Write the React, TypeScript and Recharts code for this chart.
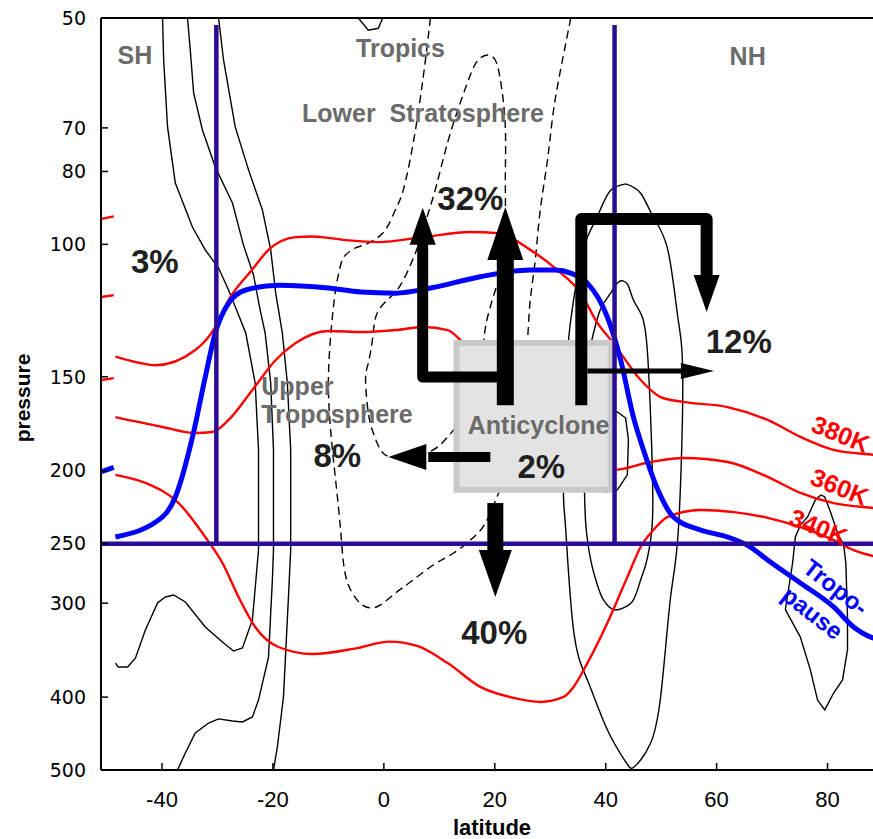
import {
  ComposedChart,
  Line,
  ReferenceArea,
  Scatter,
  XAxis,
  YAxis,
} from "recharts";

// latitude (deg) / pressure (hPa) pairs
const latTicks = [-40, -20, 0, 20, 40, 60, 80];
const pressureTicks = [50, 70, 80, 100, 150, 200, 250, 300, 400, 500];

const tropopause = [
  [-48.4, 245], [-39.9, 230.4], [-37.6, 216.7], [-34.5, 180.3], [-32.2, 150.1],
  [-30.4, 131.2], [-28.0, 119.7], [-24.9, 115], [-19.0, 113.3], [-10.0, 114.3],
  [-4.2, 115.7], [2.1, 116.1], [8.4, 114.3], [17.4, 110.4], [26.4, 108.2],
  [30.9, 108.2], [33.7, 109.2], [36.7, 112.6], [40.3, 124.9], [42.7, 142.5],
  [45.0, 169.7], [46.8, 187.6], [49.4, 212], [52.2, 230.4], [57.1, 239.8],
  [62.0, 245], [66.1, 252.6], [69.2, 262.9], [75.1, 282], [81.1, 303.5],
  [84.7, 322.7], [87.8, 332.8], [90.3, 335.8],
];

const theta380 = [
  [-48.4, 141], [-43.9, 143.8], [-41.2, 144.8], [-34.0, 138.2], [-30.4, 128.8],
  [-28.0, 118.6], [-23.8, 108.2], [-20.8, 101.7], [-15.9, 97.8], [-12.9, 97.6],
  [-6.9, 98.7], [-1.0, 99.3], [7.1, 97.8], [15.6, 96.3], [20.5, 96.6],
  [26.4, 101.7], [31.3, 108.2], [35.5, 116.1], [38.5, 127.2], [41.4, 135.3],
  [46.3, 151.5], [49.9, 159.6], [54.0, 162], [62.0, 164.6], [69.2, 171.2],
  [75.1, 180.3], [81.1, 187.6], [88.3, 190.5], [90.3, 191.2],
];

const theta360 = [
  [-48.4, 169.7], [-39.9, 174.9], [-34.0, 178.2], [-30.9, 177.6], [-28.0, 171.2],
  [-23.7, 156.2], [-19.5, 142.5], [-15.9, 135.3], [-10.0, 130.4], [-3.9, 130.8],
  [2.1, 130], [7.1, 128.8], [11.5, 130], [14.4, 135.3], [21.1, 151.5],
  [31.9, 182], [41.4, 199.5], [48.1, 194.7], [54.0, 192.3], [62.0, 194.7],
  [69.2, 203.8], [75.1, 214], [81.1, 220.8], [88.3, 224.2], [90.3, 225],
];

const theta340 = [
  [-48.4, 202.5], [-43.0, 207.6], [-37.0, 220.8], [-32.2, 245], [-29.1, 265.3],
  [-26.2, 294.4], [-23.2, 322.7], [-19.0, 343.1], [-12.9, 350.6], [-5.0, 344.5],
  [1.0, 337.5], [6.0, 342], [11.5, 360.4], [17.4, 387.7], [23.4, 401],
  [28.2, 406], [32.4, 399.8], [34.2, 387.7], [36.7, 360.4], [40.3, 318.8],
  [43.9, 277], [46.3, 252.6], [48.6, 239.8], [51.2, 230.4], [57.1, 225.5],
  [63.1, 227], [69.2, 231], [75.1, 237.6], [81.1, 247.3], [84.7, 255],
  [88.3, 259.7], [90.3, 261],
];

// stubs along the left frame
const stubRed1 = [[-50.9, 92.5], [-48.7, 91.8]];
const stubRed2 = [[-50.9, 117.5], [-48.7, 116.8]];
const stubRed3 = [[-50.9, 151.5], [-48.7, 150.6]];
const stubBlue = [[-50.9, 200.6], [-48.7, 198]];

// solid contours
const cont1 = [
  [-39.9, 50], [-39.7, 56.9], [-39.0, 69.8], [-37.6, 82.9], [-34.5, 94.9],
  [-32.2, 101.7], [-29.8, 107.5], [-28.0, 115], [-24.9, 131.2], [-23.2, 152.9],
  [-22.6, 187.6], [-22.6, 255], [-23.7, 315.8], [-25.5, 344], [-27.1, 347.4],
  [-28.9, 339], [-32.2, 322.7], [-35.8, 298.9], [-37.9, 292.6], [-39.4, 294.4],
  [-40.8, 299.8], [-43.0, 325.6], [-44.8, 355], [-46.2, 364.8], [-47.9, 364.8],
  [-48.4, 360.4],
];
const cont2 = [
  [-35.4, 50], [-34.9, 55.2], [-34.3, 62.9], [-32.7, 70.5], [-30.4, 78.9],
  [-27.3, 88.1], [-25.3, 100.3], [-23.5, 109.8], [-22.3, 122.3], [-21.4, 131.2],
  [-20.4, 152.9], [-19.9, 187.6], [-19.9, 255], [-20.1, 279.4], [-20.8, 353.8],
  [-22.6, 403.6], [-23.7, 425], [-25.5, 431.6], [-27.3, 430.3], [-29.8, 427.6],
  [-31.6, 433], [-34.0, 446.4], [-35.8, 474.6], [-37.2, 500],
];
const cont3 = [
  [-29.8, 50], [-28.9, 56.9], [-26.8, 69.8], [-24.4, 79.6], [-21.9, 90],
  [-20.4, 101.7], [-19.5, 116.1], [-18.3, 131.2], [-17.4, 152.9], [-16.8, 187.6],
  [-16.8, 255], [-17.2, 294.4], [-18.1, 399.8], [-19.2, 466], [-19.9, 500],
];
const cont4 = [
  [43.6, 83.1], [46.3, 85.5], [48.6, 92], [51.2, 101.7], [53.0, 124.9],
  [53.9, 152.9], [53.1, 239.8], [51.7, 294.4], [49.9, 399.8], [48.1, 460.3],
  [46.3, 485], [44.8, 497], [43.6, 487.5], [40.3, 442], [36.7, 379.5],
  [34.2, 325.6], [32.8, 239.8], [32.4, 216.7], [32.4, 171.2], [33.1, 138.2],
  [34.2, 118.6], [35.5, 104.9], [36.7, 97.8], [39.0, 90], [40.9, 84.7],
  [43.6, 83.1],
];
const cont5 = [
  [37.3, 136.1], [39.0, 122.3], [40.9, 116.1], [42.3, 112.2], [43.9, 112.9],
  [45.0, 118.6], [46.6, 124.9], [47.5, 138.2], [48.1, 169.7], [48.5, 218.7],
  [48.1, 247.3], [47.2, 266.9], [46.3, 279.4], [45.0, 297], [43.2, 304.4],
  [41.4, 306], [39.6, 297], [38.5, 283.7], [37.3, 262.9], [36.5, 239.8],
  [36.2, 216.7], [36.2, 171.2], [37.3, 136.1],
];
const cont6 = [
  [39.0, 167.1], [42.1, 167.1], [43.6, 170.2], [44.1, 182], [43.9, 202.5],
  [42.1, 212], [39.9, 213.4], [38.1, 199.5], [38.1, 176.5], [39.0, 167.1],
];
const cont7 = [
  [78.8, 215.4], [79.5, 216.7], [80.6, 227.6], [81.8, 242], [82.9, 251.1],
  [83.3, 265.3], [83.6, 313], [83.6, 346], [82.7, 379.5], [81.1, 395],
  [79.5, 416], [78.2, 403.6], [76.9, 368], [75.1, 332.8], [72.4, 306],
  [73.7, 265.3], [74.2, 245], [75.1, 236.2], [76.4, 230.4], [77.8, 218.7],
  [78.8, 215.4],
];
const cont8 = [[-4.6, 50], [-2.8, 51.9], [-1.0, 51.6], [-0.2, 50]];

// dashed contours
const dash1 = [
  [8.4, 50], [7.1, 59.9], [5.3, 73.3], [3.5, 84.7], [2.3, 89.2], [0.8, 94.3],
  [-1.0, 97.8], [-3.3, 100], [-5.1, 101.1], [-6.9, 103.3], [-7.8, 106.6],
  [-8.7, 115], [-9.5, 130], [-10.0, 151.5], [-9.6, 176.5], [-8.7, 205.7],
  [-7.8, 239.8], [-7.1, 271], [-5.7, 290.8], [-3.9, 301.6], [-2.4, 304.4],
  [-0.6, 301.6], [2.1, 290.8], [4.8, 281.2], [8.9, 266.9], [12.6, 257.3],
  [15.6, 247.3], [18.3, 234.8], [20.7, 214], [22.8, 199.5],
];
const dash2 = [
  [12.9, 175.5], [11.5, 180.3], [8.9, 187.6], [4.8, 191.7], [1.2, 191.7],
  [-0.6, 187.6], [-1.9, 178.2], [-2.8, 167.6], [-3.3, 151.5], [-2.8, 143.8],
  [-2.0, 132.8], [-1.2, 123.4], [1.2, 117.5], [3.5, 111.6], [6.1, 100.8],
  [7.5, 93.4], [8.9, 86.5], [10.2, 79.6], [12.0, 71.1], [14.4, 62.9],
  [16.2, 58.1], [17.4, 56.5], [18.7, 56.0], [20.1, 56.9], [21.1, 61.0],
  [21.9, 69.8], [21.9, 81.4], [21.9, 91.4], [21.4, 104.9], [20.5, 112.6],
  [18.7, 124.9], [18.0, 134.8], [17.1, 151.5],
];
const dash3 = [
  [33.7, 50], [32.2, 56.9], [30.6, 66.3], [29.5, 77.3], [28.2, 90],
  [27.3, 104.9], [26.4, 118.6], [25.9, 134.8], [25.4, 151.5],
];

// region bounds
const shBound = [[-30.2, 51.1], [-30.2, 250]];
const nhBound = [[41.6, 51.1], [41.6, 250]];
const utBase = [[-51, 250], [90, 250]];
const anticyclone = { lat1: 13.1, lat2: 40.9, p1: 135.3, p2: 212 };

// transport arrows: shafts and tips
const shaftWest = [[7.0, 99], [7.0, 150.1], [21.9, 150.1]];
const shaftUp = [[21.9, 103.3], [21.9, 163.6]];
const shaftNorth = [[35.6, 163.6], [35.6, 92.5], [58.2, 92.5], [58.2, 111.6]];
const shaftEast = [[36.7, 147.4], [55.0, 147.4]];
const shaftLeft = [[19.2, 191.7], [8.0, 191.7]];
const shaftDown = [[20.1, 220.8], [20.1, 257.3]];
const arrowTips = [
  { id: "west", x: 7.0, p: 89.4, dir: "up" },
  { id: "up", x: 21.9, p: 89.2, dir: "up" },
  { id: "north", x: 58.2, p: 123.0, dir: "down" },
  { id: "east", x: 59.5, p: 147.4, dir: "right" },
  { id: "left", x: 0.8, p: 191.7, dir: "left" },
  { id: "down", x: 20.1, p: 294.4, dir: "down" },
];

const regionLabels = [
  { x: -44.9, p: 57.6, text: "SH" },
  { x: 65.6, p: 57.7, text: "NH" },
  { x: 3.0, p: 56.3, text: "Tropics" },
  { x: 7.05, p: 68.7, text: "Lower\u00a0\u00a0Stratosphere" },
  { x: 27.9, p: 178.7, text: "Anticyclone" },
];
const utLabels = [
  { x: -22.1, p: 158.6, text: "Upper" },
  { x: -22.1, p: 172.9, text: "Troposphere" },
];
const percentLabels = [
  { x: 15.6, p: 90.0, text: "32%" },
  { x: -41.3, p: 109.2, text: "3%" },
  { x: 64.0, p: 139.5, text: "12%" },
  { x: -8.4, p: 197.7, text: "8%" },
  { x: 28.4, p: 204.5, text: "2%" },
  { x: 19.9, p: 340, text: "40%" },
];
const thetaLabels = [
  { x: 82.4, p: 178.7, text: "380K" },
  { x: 82.2, p: 210, text: "360K" },
  { x: 78.4, p: 237.6, text: "340K" },
];
const tropoLabels = [
  { x: 81.5, p: 285.6, text: "Tropo-" },
  { x: 77.3, p: 309, text: "pause" },
];

const SANS = '"Liberation Sans", Arial, Helvetica, sans-serif';
const RED = "#ff0000";
const BLUE = "#0000ff";
const INDIGO = "#2b0c96";
const GREY_TEXT = "#6b6b6b";

// arrowhead length / width in px
const headSize: Record<string, [number, number]> = {
  west: [37, 26],
  up: [53, 36],
  north: [37, 26],
  east: [33, 16],
  left: [38, 26],
  down: [47, 33],
};

const pts = (rows: number[][]) => rows.map(([x, p]) => ({ x, p }));

const line = (
  key: string,
  rows: number[][],
  stroke: string,
  width: number,
  curve: any,
  z: number,
  extra: Record<string, any> = {}
) => (
  <Line
    key={key}
    data={pts(rows)}
    dataKey="p"
    type={curve}
    stroke={stroke}
    strokeWidth={width}
    dot={false}
    activeDot={false}
    isAnimationActive={false}
    legendType="none"
    zIndex={z}
    {...extra}
  />
);

function ArrowHead(props: any) {
  const { cx, cy, payload } = props;
  if (cx == null || cy == null) return null;
  const [len, w] = headSize[payload.id];
  const h = w / 2;
  let poly: number[][];
  switch (payload.dir) {
    case "up":
      poly = [[cx, cy], [cx - h, cy + len], [cx + h, cy + len]];
      break;
    case "down":
      poly = [[cx, cy], [cx - h, cy - len], [cx + h, cy - len]];
      break;
    case "left":
      poly = [[cx, cy], [cx + len, cy - h], [cx + len, cy + h]];
      break;
    default:
      poly = [[cx, cy], [cx - len, cy - h], [cx - len, cy + h]];
  }
  return <polygon points={poly.map((q) => q.join(",")).join(" ")} fill="#000" />;
}

const textShape =
  (style: {
    size: number;
    fill: string;
    anchor?: "start" | "middle" | "end";
    angle?: number;
    baseline?: "central" | "alphabetic";
  }) =>
  (props: any) => {
    const { cx, cy, payload } = props;
    if (cx == null || cy == null) return null;
    return (
      <text
        x={cx}
        y={cy}
        fontFamily={SANS}
        fontWeight="bold"
        fontSize={style.size}
        fill={style.fill}
        textAnchor={style.anchor ?? "middle"}
        dominantBaseline={style.baseline ?? "alphabetic"}
        transform={style.angle ? `rotate(${style.angle} ${cx} ${cy})` : undefined}
      >
        {payload.text}
      </text>
    );
  };

function PressureLabel(props: any) {
  const vb = props.viewBox || { x: 0, y: 18, width: 101, height: 752 };
  const x = vb.x + 22;
  const y = vb.y + vb.height / 2 + 4;
  return (
    <text
      x={x}
      y={y}
      transform={`rotate(-90 ${x} ${y})`}
      textAnchor="middle"
      dominantBaseline="central"
      fontFamily={SANS}
      fontWeight="bold"
      fontSize={21}
      fill="#000"
    >
      pressure
    </text>
  );
}

export default function App() {
  return (
    <div
      style={{
        position: "absolute",
        left: 0,
        top: 0,
        width: 873,
        height: 839,
        overflow: "hidden",
        background: "#fff",
      }}
    >
      <ComposedChart
        width={883}
        height={839}
        margin={{ top: 17, right: 0, bottom: 0, left: 0 }}
      >
        <XAxis
          xAxisId={0}
          dataKey="x"
          type="number"
          domain={[-51, 90]}
          ticks={latTicks}
          allowDataOverflow
          height={69}
          tickSize={-7}
          tickMargin={28}
          stroke="#000"
          axisLine={{ stroke: "#000", strokeWidth: 2 }}
          tickLine={{ stroke: "#000", strokeWidth: 1.5 }}
          tick={{
            fontFamily: '"Liberation Sans Narrow", "Liberation Sans", sans-serif',
            fontSize: 22,
            fill: "#000",
          }}
          label={{
            value: "latitude",
            position: "insideBottom",
            offset: 4,
            style: { fontFamily: SANS, fontWeight: "bold", fontSize: 22, fill: "#000" },
          }}
        />
        <XAxis
          xAxisId="top"
          orientation="top"
          dataKey="x"
          type="number"
          domain={[-51, 90]}
          ticks={latTicks}
          allowDataOverflow
          height={1}
          tickSize={-7}
          tick={false}
          axisLine={{ stroke: "#000", strokeWidth: 2 }}
          tickLine={{ stroke: "#000", strokeWidth: 1.5 }}
        />
        <YAxis
          dataKey="p"
          type="number"
          scale="log"
          domain={[50, 500]}
          ticks={pressureTicks}
          reversed
          allowDataOverflow
          width={101}
          tickSize={-7}
          tickMargin={22}
          axisLine={{ stroke: "#000", strokeWidth: 2 }}
          tickLine={{ stroke: "#000", strokeWidth: 1.5 }}
          tick={{ fontFamily: '"DejaVu Sans", sans-serif', fontSize: 19, fill: "#000" }}
          label={<PressureLabel />}
        />

        {/* black contours */}
        {line("c1", cont1, "#000", 1.4, "linear", 400)}
        {line("c2", cont2, "#000", 1.4, "linear", 400)}
        {line("c3", cont3, "#000", 1.4, "linear", 400)}
        {line("c4", cont4, "#000", 1.4, "natural", 400)}
        {line("c5", cont5, "#000", 1.4, "natural", 400)}
        {line("c6", cont6, "#000", 1.4, "linear", 400)}
        {line("c7", cont7, "#000", 1.4, "linear", 400)}
        {line("c8", cont8, "#000", 1.4, "linear", 400)}
        {line("d1", dash1, "#000", 1.4, "natural", 400, { strokeDasharray: "8 5" })}
        {line("d2", dash2, "#000", 1.4, "natural", 400, { strokeDasharray: "8 5" })}
        {line("d3", dash3, "#000", 1.4, "natural", 400, { strokeDasharray: "8 5" })}

        {/* isentropes */}
        {line("t380", theta380, RED, 2.4, "monotoneX", 410)}
        {line("t360", theta360, RED, 2.4, "monotoneX", 410)}
        {line("t340", theta340, RED, 2.4, "monotoneX", 410)}
        {line("s1", stubRed1, RED, 2.4, "linear", 410)}
        {line("s2", stubRed2, RED, 2.4, "linear", 410)}
        {line("s3", stubRed3, RED, 2.4, "linear", 410)}

        {/* tropopause */}
        {line("tp", tropopause, BLUE, 5, "monotoneX", 420)}
        {line("s4", stubBlue, BLUE, 5, "linear", 420)}

        <ReferenceArea
          x1={anticyclone.lat1}
          x2={anticyclone.lat2}
          y1={anticyclone.p1}
          y2={anticyclone.p2}
          fill="#e3e3e3"
          fillOpacity={1}
          stroke="#c9c9c9"
          strokeWidth={6}
          zIndex={450}
        />

        {line("sh", shBound, INDIGO, 4.5, "linear", 460)}
        {line("nh", nhBound, INDIGO, 4.5, "linear", 460)}
        {line("base", utBase, INDIGO, 4.5, "linear", 460)}

        {/* arrow shafts */}
        {line("aw", shaftWest, "#000", 11, "linear", 470, { strokeLinejoin: "round" })}
        {line("au", shaftUp, "#000", 17, "linear", 470)}
        {line("an", shaftNorth, "#000", 12, "linear", 470, { strokeLinejoin: "round" })}
        {line("ae", shaftEast, "#000", 5, "linear", 470)}
        {line("al", shaftLeft, "#000", 10, "linear", 470)}
        {line("ad", shaftDown, "#000", 16, "linear", 470)}

        <Scatter
          data={arrowTips}
          shape={ArrowHead}
          isAnimationActive={false}
          legendType="none"
          zIndex={600}
        />
        <Scatter
          data={regionLabels}
          shape={textShape({ size: 25, fill: GREY_TEXT })}
          isAnimationActive={false}
          legendType="none"
          zIndex={610}
        />
        <Scatter
          data={utLabels}
          shape={textShape({ size: 25, fill: GREY_TEXT, anchor: "start" })}
          isAnimationActive={false}
          legendType="none"
          zIndex={610}
        />
        <Scatter
          data={percentLabels}
          shape={textShape({ size: 33, fill: "#202020" })}
          isAnimationActive={false}
          legendType="none"
          zIndex={610}
        />
        <Scatter
          data={thetaLabels}
          shape={textShape({ size: 25, fill: RED, angle: 22, baseline: "central" })}
          isAnimationActive={false}
          legendType="none"
          zIndex={610}
        />
        <Scatter
          data={tropoLabels}
          shape={textShape({ size: 24, fill: BLUE, angle: 38, baseline: "central" })}
          isAnimationActive={false}
          legendType="none"
          zIndex={610}
        />
      </ComposedChart>
    </div>
  );
}
